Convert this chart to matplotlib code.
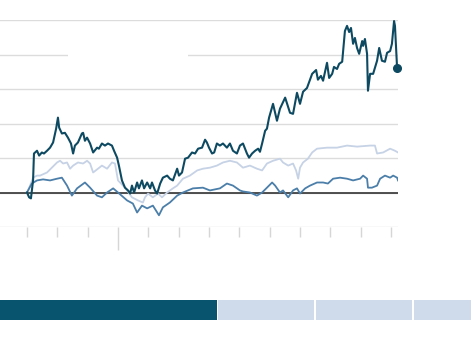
import numpy as np
import matplotlib
matplotlib.use("Agg")
from matplotlib import pyplot as plt
from matplotlib.patches import Rectangle

# x in months since start, y in % change
dark_x = [0.00, 0.07, 0.13, 0.20, 0.23, 0.33, 0.40, 0.49, 0.56, 0.66, 0.76, 0.86, 0.96, 1.02, 1.06,
          1.15, 1.25, 1.35, 1.45, 1.52, 1.58, 1.68, 1.81, 1.85, 1.91, 1.98, 2.08, 2.18, 2.31, 2.37,
          2.47, 2.57, 2.67, 2.80, 2.87, 2.97, 3.03, 3.13, 3.23, 3.33, 3.40, 3.46, 3.53, 3.63, 3.69,
          3.79, 3.86, 3.96, 4.06, 4.12, 4.22, 4.29, 4.39, 4.48, 4.62, 4.71, 4.81, 4.95, 5.01, 5.11,
          5.21, 5.31, 5.44, 5.54, 5.64, 5.77, 5.87, 5.93, 6.00, 6.10, 6.17, 6.26, 6.36, 6.46, 6.59,
          6.69, 6.79, 6.92, 7.02, 7.12, 7.25, 7.32, 7.42, 7.52, 7.62, 7.68, 7.75, 7.85, 7.91, 7.98,
          8.11, 8.24, 8.34, 8.51, 8.67, 8.77, 8.90, 9.00, 9.10, 9.23, 9.40, 9.53, 9.59, 9.69, 9.76,
          9.89, 9.96, 10.06, 10.12, 10.22, 10.29, 10.39, 10.48, 10.55, 10.62, 10.68, 10.75, 10.81,
          10.88, 10.95, 11.05, 11.08, 11.14, 11.21, 11.24, 11.31, 11.41, 11.54, 11.61, 11.70, 11.80,
          11.87, 11.97, 12.03, 12.10, 12.13, 12.20]
dark_y = [0.0, -1.4, -1.7, 3.5, 11.3, 12.1, 10.7, 11.6, 11.3, 12.1, 13.0, 14.5, 18.5, 21.7, 18.8,
          17.1, 17.3, 15.9, 14.2, 11.3, 13.6, 14.5, 17.1, 17.3, 15.0, 15.9, 14.2, 11.6, 13.0, 12.7,
          14.2, 13.6, 14.2, 13.6, 12.1, 10.1, 7.8, 3.5, 1.4, 0.6, -0.3, 2.0, 0.0, 2.9, 1.2,
          3.5, 1.2, 2.9, 1.2, 2.9, 0.6, -0.3, 2.6, 4.3, 4.9, 4.0, 3.5, 6.9, 4.9, 5.8,
          9.8, 10.1, 11.6, 11.3, 12.7, 13.0, 15.3, 14.5, 13.0, 11.3, 11.6, 14.2, 13.6, 14.2, 13.0,
          14.2, 12.1, 11.3, 13.6, 14.2, 11.3, 10.1, 11.3, 12.1, 12.7, 11.8, 14.2, 17.9, 18.5, 21.7,
          25.7, 20.8, 24.3, 27.5, 23.1, 22.8, 28.9, 25.7, 29.2, 30.3, 34.4, 35.5, 32.7, 33.8, 32.4,
          37.6, 33.2, 34.4, 36.4, 35.8, 37.3, 37.9, 46.8, 48.3, 46.5, 47.7, 43.1, 44.8,
          41.9, 40.2, 43.9, 42.5, 44.5, 40.2, 29.5, 34.4, 34.4, 38.2, 41.9, 38.2, 37.9,
          40.5, 41.0, 43.1, 49.7, 48.3, 36.1]

light_x = [0.00, 0.10, 0.20, 0.33, 0.43, 0.66, 0.82, 0.99, 1.09, 1.19, 1.32, 1.42, 1.52, 1.68, 1.85,
           1.98, 2.08, 2.18, 2.34, 2.47, 2.64, 2.80, 2.90, 3.00, 3.23, 3.46, 3.66, 3.82, 3.89, 3.99,
           4.15, 4.32, 4.45, 4.62, 4.81, 4.95, 5.14, 5.37, 5.61, 5.80, 6.03, 6.26, 6.46, 6.69, 6.92,
           7.12, 7.35, 7.58, 7.75, 7.91, 8.11, 8.34, 8.44, 8.61, 8.77, 8.87, 8.94, 9.00, 9.10, 9.26,
           9.40, 9.56, 9.89, 10.22, 10.55, 10.88, 11.31, 11.47, 11.54, 11.74, 11.97, 12.13, 12.23]
light_y = [0.0, 2.0, 4.3, 4.9, 4.9, 5.8, 7.2, 8.7, 9.2, 8.4, 8.7, 6.9, 7.8, 8.7, 8.4,
           9.2, 8.4, 5.8, 6.9, 7.8, 6.9, 8.7, 8.4, 3.5, 1.4, -1.4, -2.3, -2.9, -1.4, -0.3,
           -1.4, -0.3, -1.4, 0.0, 1.2, 2.0, 4.0, 4.9, 6.4, 6.9, 7.2, 7.8, 8.7, 9.2, 8.7,
           7.2, 7.8, 6.9, 6.4, 8.4, 9.2, 9.8, 8.7, 7.8, 8.4, 6.4, 4.0, 7.2, 8.7, 9.8,
           11.6, 12.7, 13.0, 13.0, 13.6, 13.3, 13.6, 13.6, 11.3, 11.6, 12.7, 12.1, 11.6]

mid_x = [0.00, 0.16, 0.33, 0.53, 0.76, 0.99, 1.15, 1.32, 1.48, 1.65, 1.91, 2.08, 2.31, 2.47, 2.64,
         2.84, 3.00, 3.30, 3.49, 3.63, 3.79, 3.96, 4.15, 4.35, 4.48, 4.71, 4.95, 5.14, 5.47, 5.80,
         6.03, 6.36, 6.59, 6.79, 7.02, 7.12, 7.35, 7.58, 7.75, 7.91, 8.08, 8.18, 8.34, 8.44, 8.61,
         8.77, 8.90, 9.00, 9.17, 9.33, 9.56, 9.76, 9.92, 10.09, 10.32, 10.55, 10.75, 10.98, 11.08,
         11.21, 11.24, 11.37, 11.54, 11.64, 11.80, 11.97, 12.07, 12.20, 12.23]
mid_y = [0.0, 2.6, 3.5, 3.8, 3.5, 4.0, 4.3, 2.0, -0.9, 1.2, 2.9, 1.4, -0.9, -1.4, 0.0,
         1.2, 0.0, -2.3, -3.2, -5.8, -3.8, -4.6, -3.8, -6.6, -4.3, -2.9, -0.9, 0.0, 1.2, 1.4,
         0.6, 1.2, 2.6, 2.0, 0.6, 0.3, 0.0, -0.9, 0.0, 1.4, 2.9, 2.0, 0.0, 0.6, -1.4,
         0.6, 1.2, -0.3, 1.2, 2.0, 2.9, 2.9, 2.6, 4.0, 4.3, 4.0, 3.5, 4.0, 4.9,
         4.0, 1.4, 1.4, 2.0, 4.0, 4.9, 4.3, 4.9, 4.3, 3.5]

grid_values = [-10, 0, 10, 20, 30, 40, 50]
month_ticks = list(range(13))
year_tick = 3
range_widths = [218, 98, 98, 57]
range_colors = ["#08536e", "#cfdbea", "#cfdbea", "#cfdbea"]

fig = plt.figure(figsize=(4.74, 3.61), dpi=100)
ax = fig.add_axes([0, 1 - 227 / 361, 398 / 474, 207 / 361])

ax.set_xlim(-0.89, 12.23)
ax.set_ylim(-10, 50)
ax.set_yticks(grid_values)
ax.set_axisbelow(True)
ax.grid(axis="y", color="#dcdcdc", linewidth=1)
ax.tick_params(axis="y", length=0, labelleft=False)
ax.set_xticks([year_tick])
ax.set_xticks([m for m in month_ticks if m != year_tick], minor=True)
ax.tick_params(axis="x", which="major", length=16.5, width=1, color="#d6d6d6", labelbottom=False)
ax.tick_params(axis="x", which="minor", length=7.2, width=1, color="#d6d6d6")
for s in ax.spines.values():
    s.set_visible(False)

# empty label box breaking the gridline
ax.add_patch(Rectangle((1.35, 36), 3.96, 8, facecolor="white", edgecolor="none", zorder=1))
ax.axhline(0, color="#333333", linewidth=1.2, zorder=1.5)

ax.plot(light_x, light_y, color="#c6d2e5", linewidth=1.3, zorder=2)
ax.plot(mid_x, mid_y, color="#4b7ea9", linewidth=1.3, zorder=3)
ax.plot(dark_x, dark_y, color="#0d4a62", linewidth=1.5, zorder=4)
ax.plot(dark_x[-1], dark_y[-1], "o", color="#0d4a62", markersize=5.5, zorder=5, clip_on=False)

# range selector strip
bar = fig.add_axes([0, 1 - 320 / 361, 1, 20 / 361])
lefts = np.concatenate([[0], np.cumsum(range_widths)[:-1]])
gaps = [0.5, 1.5, 1.5, 0]
bar.barh(0, np.array(range_widths) - np.array(gaps), left=lefts, height=1,
         color=range_colors, edgecolor="none")
bar.set_xlim(0, 474)
bar.set_ylim(-0.5, 0.5)
bar.axis("off")

plt.savefig("out.png", dpi=100)
